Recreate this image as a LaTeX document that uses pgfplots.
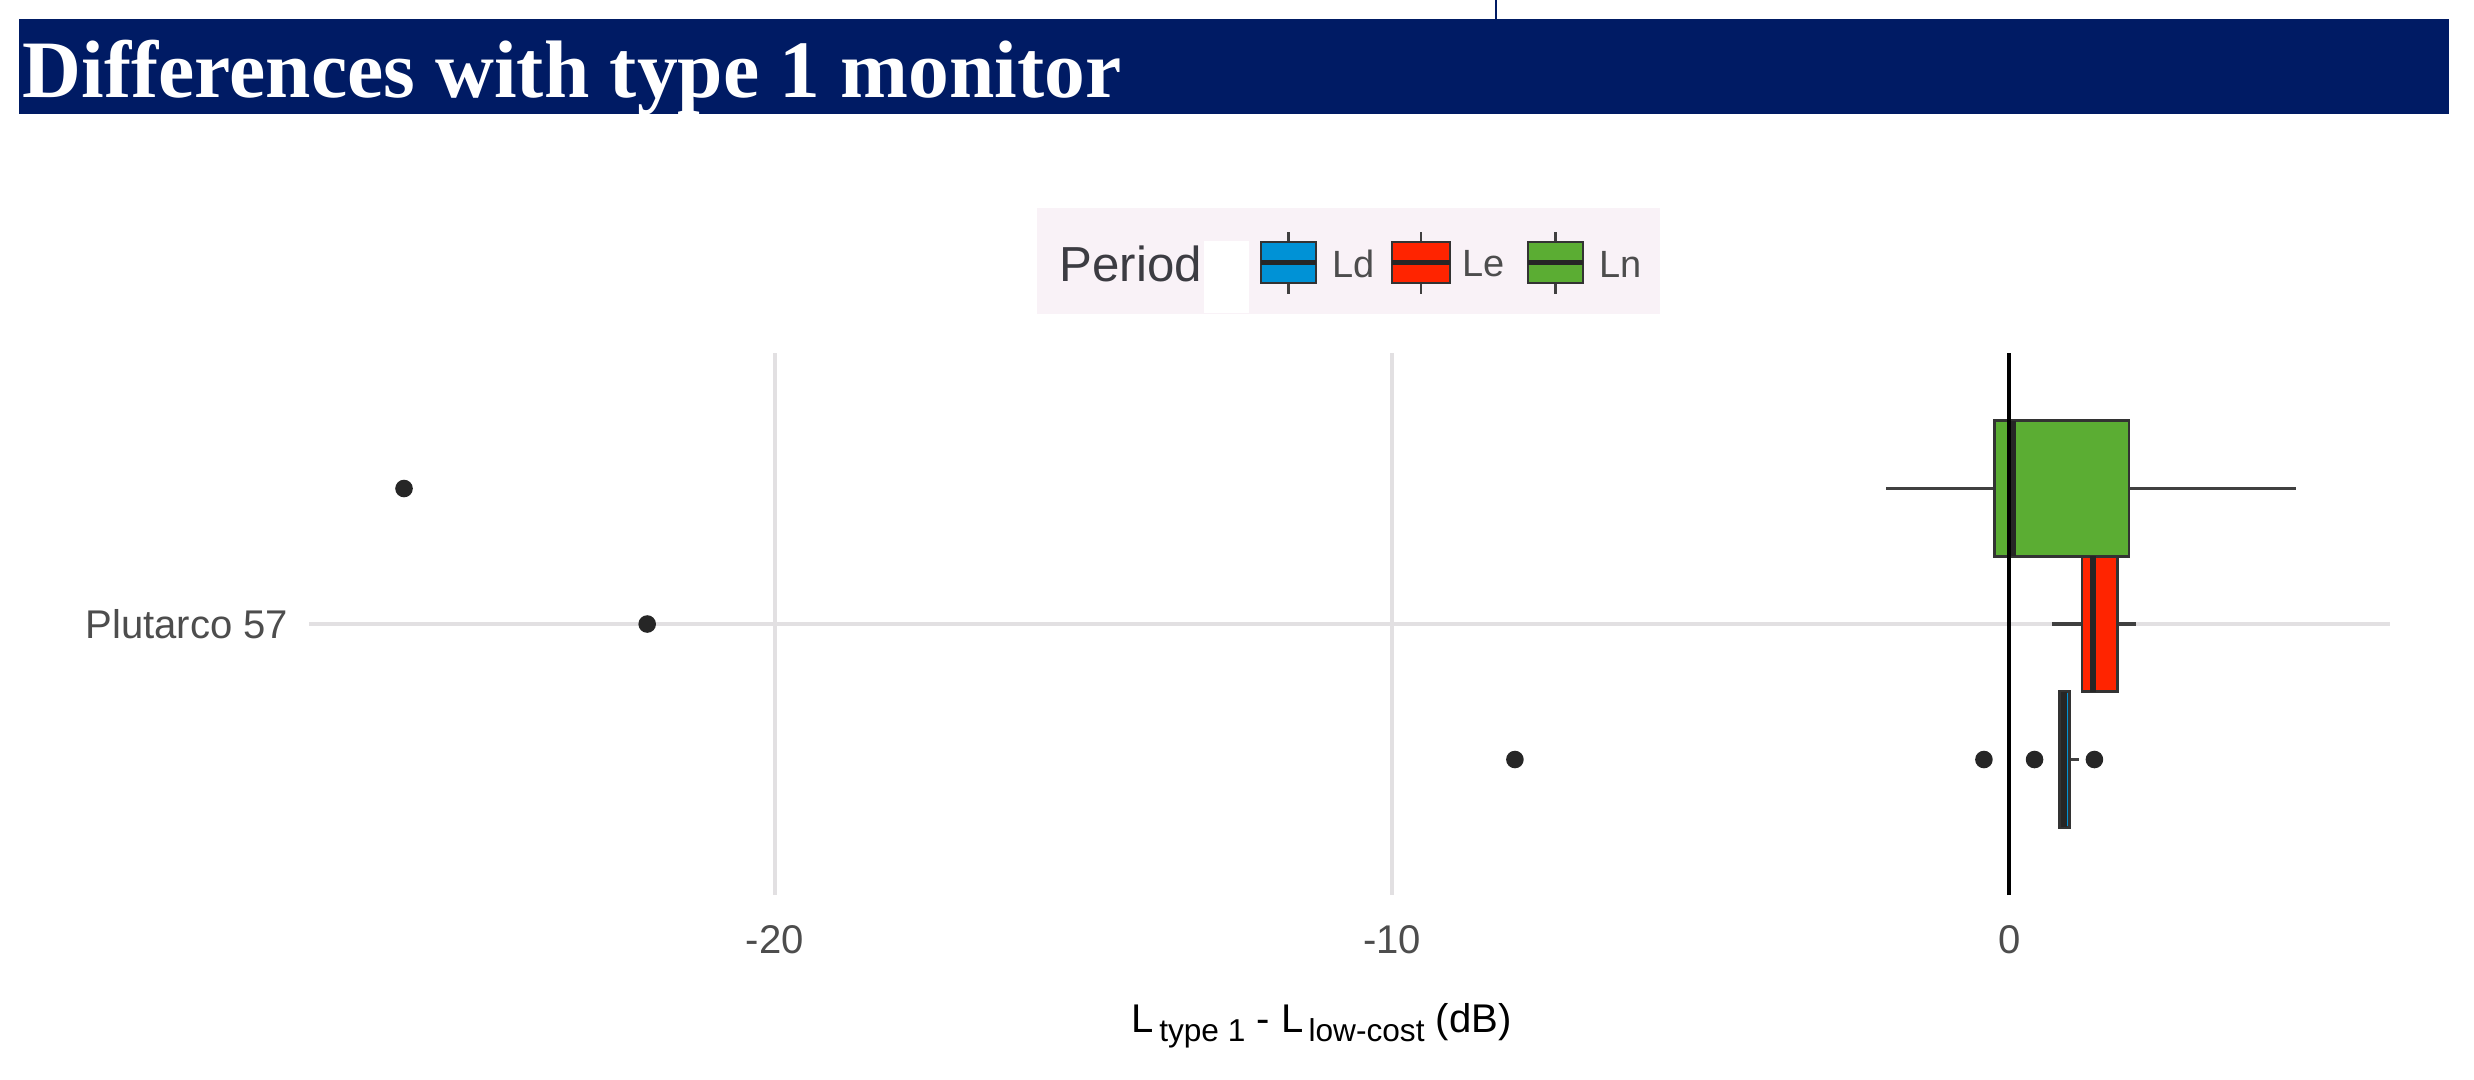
\documentclass[border=0pt]{standalone}
\usepackage{fontspec}
\setmainfont{Liberation Sans}
\newfontfamily\titlefont{Liberation Serif}
\usepackage{pgfplots}
\pgfplotsset{compat=1.18}
\usepgfplotslibrary{statistics}

\definecolor{navy}{RGB}{0,27,100}
\definecolor{ldblue}{RGB}{0,146,214}
\definecolor{lered}{RGB}{255,36,0}
\definecolor{lngreen}{RGB}{91,173,51}
\definecolor{legbg}{RGB}{249,242,247}
\definecolor{gridgray}{RGB}{226,224,226}
\definecolor{txtgray}{RGB}{77,77,77}

% legend key: left x, right x, fill colour
\newcommand{\legkey}[3]{%
  \draw[black!75, line width=0.8pt] ({(#1+#2)/2},-2.32) -- ({(#1+#2)/2},-2.94);
  \draw[fill=#3, draw=black!80, line width=0.8pt] (#1,-2.42) rectangle (#2,-2.83);
  \draw[black!85, line width=1.4pt] (#1,-2.625) -- (#2,-2.625);
}

\begin{document}
\begin{tikzpicture}
\useasboundingbox (0,0) rectangle (24.74,-10.79);

% title bar
\fill[navy] (0.19,-0.19) rectangle (24.49,-1.14);
\draw[navy, line width=0.5pt] (14.96,0) -- (14.96,-0.19);
\node[anchor=base west, inner sep=0pt, text=white,
      font=\titlefont\bfseries\fontsize{23.2}{26}\selectfont]
      at (0.22,-0.97) {Differences with type 1 monitor};

% legend
\fill[legbg] (10.37,-2.08) rectangle (16.60,-3.14);
\fill[white] (12.04,-2.41) rectangle (12.49,-3.13);
\node[anchor=west, inner sep=0pt, text={rgb,255:red,60;green,60;blue,66},
      font=\fontsize{14}{16}\selectfont] at (10.59,-2.64) {Period};
\legkey{12.61}{13.16}{ldblue}
\legkey{13.92}{14.50}{lered}
\legkey{15.28}{15.83}{lngreen}
\node[anchor=west, inner sep=0pt, text=txtgray, font=\fontsize{10.8}{12}\selectfont] at (13.32,-2.64) {Ld};
\node[anchor=west, inner sep=0pt, text=txtgray, font=\fontsize{10.8}{12}\selectfont] at (14.62,-2.64) {Le};
\node[anchor=west, inner sep=0pt, text=txtgray, font=\fontsize{10.8}{12}\selectfont] at (15.99,-2.64) {Ln};

\begin{axis}[
  at={(3.09cm,-3.53cm)}, anchor=north west,
  scale only axis, width=20.81cm, height=5.42cm,
  xmin=-27.55, xmax=6.17, ymin=0.5, ymax=1.5,
  axis line style={draw=none},
  major tick length=0pt,
  xtick={-20,-10,0}, xticklabels={-20,-10,0},
  ytick={1}, yticklabels={Plutarco 57},
  xmajorgrids, ymajorgrids,
  grid style={gridgray, line width=1pt},
  tick label style={font=\fontsize{11.4}{13}\selectfont, text=txtgray, inner sep=0pt},
  xticklabel style={anchor=north, yshift=-0.3cm},
  yticklabel style={anchor=east, xshift=-0.2cm},
  boxplot/every median/.style={draw=black!85, line width=1.7pt},
  boxplot/every whisker/.style={draw=black!75, line width=0.9pt},
  boxplot/whisker extend=0,
  boxplot/box extend=0.25,
]
% Ln
\addplot[fill=lngreen, draw=black!80, line width=0.8pt,
  boxplot prepared={draw position=1.25, lower whisker=-1.99, lower quartile=-0.24,
    median=0.06, upper quartile=1.94, upper whisker=4.65}] coordinates {};
% Le
\addplot[fill=lered, draw=black!80, line width=0.8pt,
  boxplot prepared={draw position=1.0, lower whisker=0.70, lower quartile=1.18,
    median=1.35, upper quartile=1.75, upper whisker=2.06}] coordinates {};
% Ld
\addplot[fill=ldblue, draw=black!80, line width=0.8pt,
  boxplot prepared={draw position=0.75, lower whisker=0.81, lower quartile=0.81,
    median=0.89, upper quartile=0.97, upper whisker=1.13}] coordinates {};
% zero line
\addplot[black, line width=1.1pt] coordinates {(0,0.5) (0,1.5)};
% outliers
\addplot[only marks, mark=*, mark size=2.3pt, black!85] coordinates {
  (-26.01,1.25) (-22.07,1.0) (-8.01,0.75) (-0.41,0.75) (0.41,0.75) (1.38,0.75)};
\end{axis}

\node[anchor=base west, inner sep=0pt, font=\fontsize{11.4}{13}\selectfont]
  at (11.31,-10.32) {L\raisebox{-0.45ex}{\fontsize{9}{10}\selectfont\,type 1} - L\raisebox{-0.45ex}{\fontsize{9}{10}\selectfont\,low-cost} (dB)};
\end{tikzpicture}
\end{document}
